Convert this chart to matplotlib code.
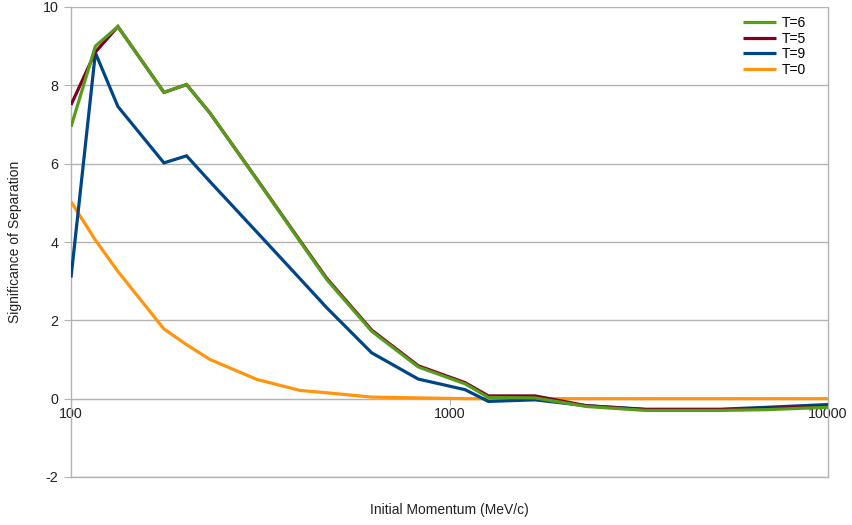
import matplotlib
matplotlib.use("Agg")
import matplotlib.pyplot as plt
from matplotlib.ticker import FixedLocator, NullLocator, FixedFormatter

plt.rcParams['font.family'] = ['Liberation Sans', 'DejaVu Sans']

momentum = [100, 116, 133, 176, 202, 233, 310, 403, 474, 623, 827, 1099, 1267, 1683,
            2300, 3300, 5200, 6900, 10000]
t6 = [6.94, 9.0, 9.5, 7.82, 8.02, 7.29, 5.59, 4.01, 3.04, 1.72, 0.81, 0.38, 0.03, 0.02,
      -0.2, -0.3, -0.3, -0.28, -0.22]
t5 = [7.5, 8.85, 9.5, 7.82, 8.02, 7.29, 5.6, 4.03, 3.07, 1.75, 0.84, 0.41, 0.07, 0.07,
      -0.18, -0.28, -0.28, -0.25, -0.2]
t9 = [3.09, 8.83, 7.46, 6.02, 6.2, 5.54, 4.25, 3.06, 2.32, 1.17, 0.5, 0.23, -0.07, -0.03,
      -0.18, -0.27, -0.27, -0.22, -0.15]
t0 = [5.03, 4.05, 3.25, 1.78, 1.38, 1.0, 0.49, 0.21, 0.15, 0.04, 0.02, 0.0, 0.0, 0.0,
      0.0, 0.0, 0.0, 0.0, 0.0]

series = [("T=6", t6, "#579d1c"), ("T=5", t5, "#7e0021"),
          ("T=9", t9, "#004586"), ("T=0", t0, "#ff950e")]

xticks = [100, 1000, 10000]
xticklabels = ["100", "1000", "10000"]
yticks = [-2, 0, 2, 4, 6, 8, 10]

fig = plt.figure(figsize=(8.52, 5.25), dpi=100)
ax = fig.add_axes([71/852, 1 - 477/525, (828-71)/852, (477-7)/525])

handles = {}
for z, (name, vals, col) in zip([4, 3, 2, 1], series):
    ln, = ax.plot(momentum, vals, color=col, lw=2.3, solid_joinstyle='miter',
                  solid_capstyle='butt', zorder=z + 2, label=name)
    handles[name] = ln

ax.set_xscale('log')
ax.set_xlim(100, 10000)
ax.set_ylim(-2, 10)
ax.xaxis.set_major_locator(FixedLocator(xticks))
ax.xaxis.set_major_formatter(FixedFormatter(xticklabels))
ax.xaxis.set_minor_locator(NullLocator())
ax.set_yticks(yticks)
ax.set_yticklabels([str(v) for v in yticks])

ax.grid(axis='y', color='#b3b3b3', lw=1.0, zorder=0)
ax.set_axisbelow(True)
gray = '#b3b3b3'
for s in ['left', 'right', 'top']:
    ax.spines[s].set_color(gray)
    ax.spines[s].set_linewidth(1.0)
ax.spines['top'].set_visible(False)
ax.spines['bottom'].set_position(('data', 0))
ax.spines['bottom'].set_color(gray)
ax.axhline(-2, color=gray, lw=1.0, zorder=0, clip_on=False)

ax.tick_params(axis='y', length=5, color=gray, labelsize=10.3, pad=4, labelcolor='#222222')
ax.tick_params(axis='x', length=4, color=gray, labelsize=10.3, pad=2, labelcolor='#222222')

ax.set_ylabel("Significance of Separation", fontsize=10, labelpad=15, color='#222222')
fig.text(449/852, 1 - 510/525, "Initial Momentum (MeV/c)", fontsize=10,
         ha='center', va='center', color='#222222')

leg = ax.legend([handles[n] for n in ["T=6", "T=5", "T=9", "T=0"]],
                ["T=6", "T=5", "T=9", "T=0"], loc='upper right', frameon=False,
                fontsize=10, handlelength=2.4, handletextpad=0.4,
                labelspacing=0.12, borderaxespad=0.0, borderpad=0.0,
                bbox_to_anchor=((806 - 71) / (828 - 71), 1 - 9 / 470))

fig.savefig("out.png", dpi=100)
